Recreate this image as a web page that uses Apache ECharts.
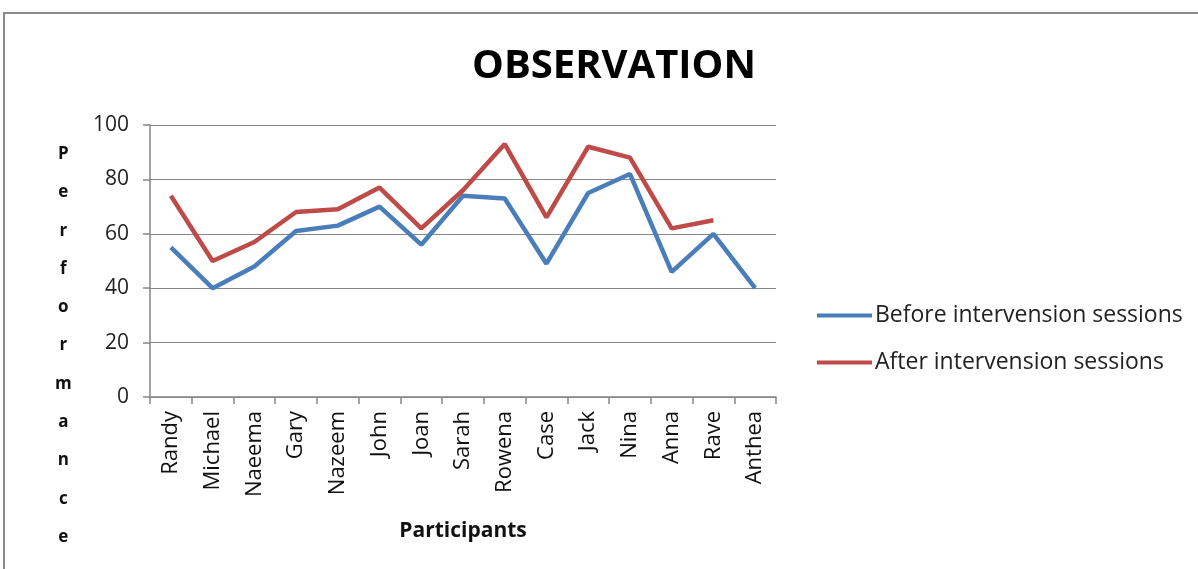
<!DOCTYPE html>
<html>
<head>
<meta charset="utf-8">
<script src="https://cdn.jsdelivr.net/npm/echarts@6/dist/echarts.min.js"></script>
<style>
html,body{margin:0;padding:0;background:#fff;}
#chart{width:1198px;height:569px;}
</style>
</head>
<body>
<div id="chart"></div>
<script>
const categories = ['Randy','Michael','Naeema','Gary','Nazeem','John','Joan','Sarah','Rowena','Case','Jack','Nina','Anna','Rave','Anthea'];
const beforeValues = [55,40,48,61,63,70,56,74,73,49,75,82,46,60,40];
const afterValues = [74,50,57,68,69,77,62,76,93,66,92,88,62,65,null];
const yTicks = [0,20,40,60,80,100];
const seriesNames = ['Before intervension sessions','After intervension sessions'];
const titleText = 'OBSERVATION';
const yName = 'Performance';
const xName = 'Participants';

const FONT = '"Open Sans", "Liberation Sans", sans-serif';
const chart = echarts.init(document.getElementById('chart'));
chart.setOption({
  animation: false,
  backgroundColor: '#fff',
  title: {
    text: titleText,
    left: 609, top: 42, textAlign: 'center',
    textStyle: {fontFamily: FONT, fontWeight: 'bold', fontSize: 40, color: '#000'}
  },
  legend: {
    orient: 'vertical',
    left: 812, top: 299,
    itemGap: 24,
    icon: 'rect',
    itemWidth: 55, itemHeight: 4,
    textStyle: {fontFamily: FONT, fontSize: 23, color: '#222', padding: [0,0,0,-2]},
    data: seriesNames
  },
  grid: {left: 150, right: 422, top: 125, bottom: 172, containLabel: false},
  xAxis: {
    type: 'category',
    data: categories,
    boundaryGap: true,
    name: xName,
    nameLocation: 'middle',
    nameGap: 124,
    nameTextStyle: {fontFamily: FONT, fontWeight: 'bold', fontSize: 21, color: '#111'},
    axisLine: {lineStyle: {color: '#868686', width: 1.5}},
    axisTick: {show: true, length: 7, alignWithLabel: false, lineStyle: {color: '#868686', width: 1.5}},
    axisLabel: {rotate: 90, margin: 14, interval: 0, fontFamily: FONT, fontSize: 22, color: '#111'}
  },
  yAxis: {
    type: 'value',
    min: 0, max: 100, interval: 20,
    axisLine: {show: true, lineStyle: {color: '#868686', width: 1.5}},
    axisTick: {show: true, length: 7, lineStyle: {color: '#868686', width: 1.5}},
    splitLine: {show: true, lineStyle: {color: '#868686', width: 1.2}},
    axisLabel: {margin: 21, fontFamily: FONT, fontSize: 21, color: '#222'}
  },
  graphic: [
    {type: 'rect', shape: {x: 4, y: 13, width: 1300, height: 700}, style: {fill: 'none', stroke: '#8a8a8a', lineWidth: 2}, silent: true},
    {type: 'text', left: 55, top: 135, style: {
      text: yName.split('').join('\n'),
      font: 'bold 17px ' + FONT, fill: '#111', lineHeight: 38.3, textAlign: 'center'
    }}
  ],
  series: [
    {name: seriesNames[0], type: 'line', data: beforeValues, showSymbol: false, symbol: 'none',
     lineStyle: {color: '#4A7EBB', width: 4.5}, itemStyle: {color: '#4A7EBB'}},
    {name: seriesNames[1], type: 'line', data: afterValues, showSymbol: false, symbol: 'none',
     lineStyle: {color: '#BE4B48', width: 4.5}, itemStyle: {color: '#BE4B48'}}
  ]
});
</script>
</body>
</html>
